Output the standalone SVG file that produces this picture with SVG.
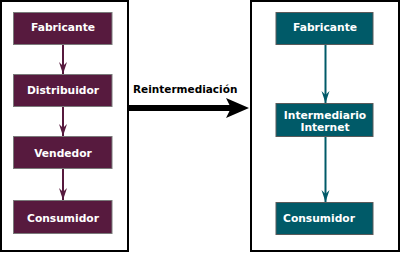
<svg xmlns="http://www.w3.org/2000/svg" width="402" height="254" viewBox="0 0 402 254">
<style>
.frame{fill:#fff;stroke:#000;stroke-width:2}
.m{fill:#571a3e;stroke:#7a7a7a;stroke-width:1}
.t{fill:#005a68;stroke:#5a5a5a;stroke-width:1}
.lbl{font-family:"DejaVu Sans",Verdana,sans-serif;font-weight:bold;font-size:10.7px;fill:#fff;text-anchor:middle}
.big{font-family:"DejaVu Sans",Verdana,sans-serif;font-weight:bold;font-size:10.5px;fill:#000}
.cm{stroke:#571a3e;stroke-width:2;fill:none}
.ct{stroke:#005a68;stroke-width:2;fill:none}
</style>
<defs>
<marker id="am" markerUnits="userSpaceOnUse" markerWidth="13" markerHeight="9" refX="12" refY="4" orient="auto" viewBox="0 0 13 9" overflow="visible">
<path d="M0,0 L12,4 L0,8 L4,4 Z" fill="#571a3e"/>
</marker>
<marker id="at" markerUnits="userSpaceOnUse" markerWidth="13" markerHeight="9" refX="12" refY="4" orient="auto" viewBox="0 0 13 9" overflow="visible">
<path d="M0,0 L12,4 L0,8 L4,4 Z" fill="#005a68"/>
</marker>
</defs>
<rect class="frame" x="1" y="1" width="127" height="250"/>
<rect class="frame" x="251" y="1" width="148" height="250"/>
<g id="connectors">
<line class="cm" x1="63" y1="45" x2="63" y2="74" marker-end="url(#am)"/>
<line class="cm" x1="63" y1="107" x2="63" y2="136" marker-end="url(#am)"/>
<line class="cm" x1="63" y1="169" x2="63" y2="200" marker-end="url(#am)"/>
<line class="ct" x1="325.5" y1="45" x2="325.5" y2="103" marker-end="url(#at)"/>
<line class="ct" x1="325.5" y1="137" x2="325.5" y2="202" marker-end="url(#at)"/>
<g id="reintermediacion">
<line x1="129" y1="108" x2="232" y2="108" stroke="#000" stroke-width="6"/>
<path d="M226,98 L249,108 L226,118 L231,108 Z" fill="#000"/>
<text class="big" x="133" y="93">Reintermediación</text>
</g>
</g>
<g id="l-fabricante"><rect class="m" x="13.5" y="12.5" width="98.5" height="32"/><text class="lbl" x="63" y="31">Fabricante</text></g>
<g id="l-distribuidor"><rect class="m" x="13.5" y="74.5" width="98.5" height="32"/><text class="lbl" x="63" y="94">Distribuidor</text></g>
<g id="l-vendedor"><rect class="m" x="13.5" y="136.5" width="98.5" height="32"/><text class="lbl" x="63" y="157.3">Vendedor</text></g>
<g id="l-consumidor"><rect class="m" x="13.5" y="200.5" width="98.5" height="33"/><text class="lbl" x="63" y="221.5">Consumidor</text></g>
<g id="r-fabricante"><rect class="t" x="276" y="12.5" width="97" height="32"/><text class="lbl" x="325" y="31">Fabricante</text></g>
<g id="r-intermediario"><rect class="t" x="276" y="103.5" width="97" height="33"/><text class="lbl" x="325" y="119">Intermediario</text><text class="lbl" x="325" y="130.5">Internet</text></g>
<g id="r-consumidor"><rect class="t" x="276" y="202.5" width="97" height="32"/><text class="lbl" x="319" y="221.7">Consumidor</text></g>
</svg>
